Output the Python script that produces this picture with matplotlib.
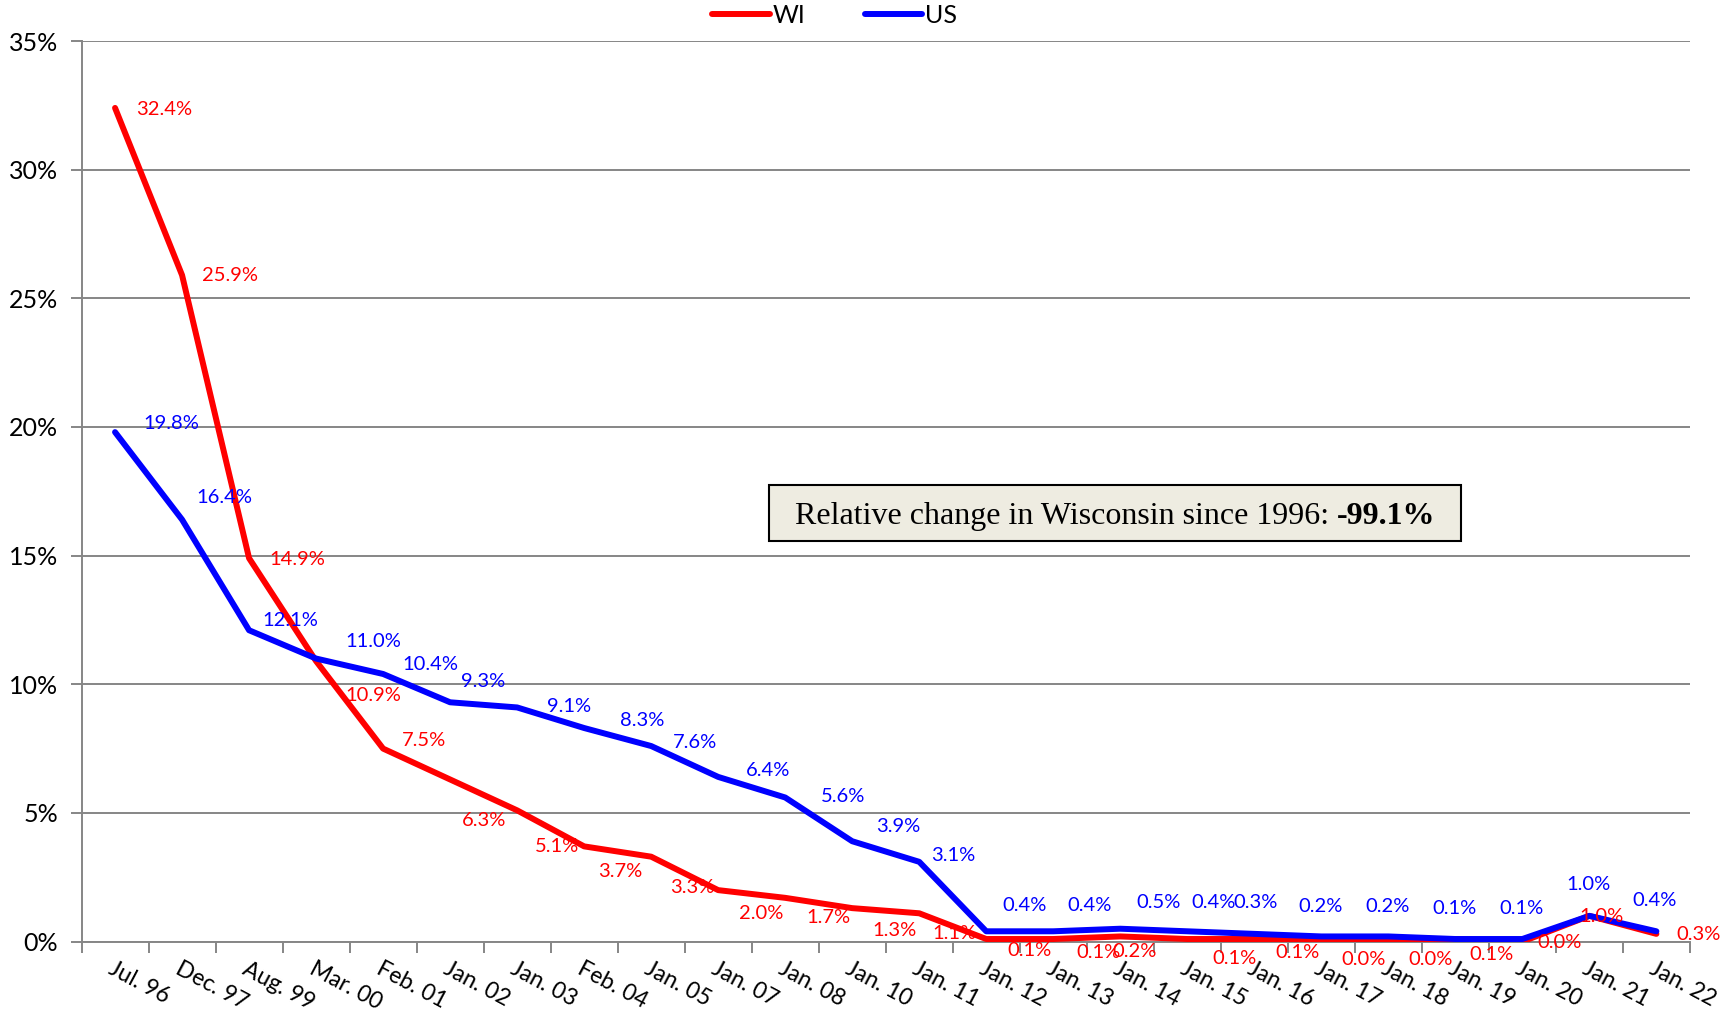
import matplotlib
matplotlib.use("Agg")
import matplotlib.pyplot as plt
from matplotlib.patches import Rectangle
import numpy as np

DATES = ["Jul. 96", "Dec. 97", "Aug. 99", "Mar. 00", "Feb. 01", "Jan. 02", "Jan. 03",
         "Feb. 04", "Jan. 05", "Jan. 07", "Jan. 08", "Jan. 10", "Jan. 11", "Jan. 12",
         "Jan. 13", "Jan. 14", "Jan. 15", "Jan. 16", "Jan. 17", "Jan. 18", "Jan. 19",
         "Jan. 20", "Jan. 21", "Jan. 22"]
WI = [32.4, 25.9, 14.9, 10.9, 7.5, 6.3, 5.1, 3.7, 3.3, 2.0, 1.7, 1.3, 1.1, 0.1,
      0.1, 0.2, 0.1, 0.1, 0.0, 0.0, 0.1, 0.0, 1.0, 0.3]
US = [19.8, 16.4, 12.1, 11.0, 10.4, 9.3, 9.1, 8.3, 7.6, 6.4, 5.6, 3.9, 3.1, 0.4,
      0.4, 0.5, 0.4, 0.3, 0.2, 0.2, 0.1, 0.1, 1.0, 0.4]
WI_CHANGE = "-99.1%"

# label offsets (px right, px down) as hand-placed in the original
WI_OFF = [(44, 1), (43, 0), (44, 1), (52, 31), (37, -7), (31, 37), (36, 33), (33, 23),
          (37, 28), (39, 21), (39, 18), (38, 20), (32, 18), (39, 10), (41, 12), (13, 14),
          (43, 18), (39, 12), (38, 16), (38, 16), (33, 14), (34, 1), (11, 1), (38, 1)]
US_OFF = [(51, -8), (38, -20), (37, -9), (52, -15), (43, -9), (30, -19), (47, -1), (52, -7),
          (40, -3), (45, -6), (52, -1), (42, -13), (31, -6), (35, -23), (33, -23), (35, -24),
          (24, -26), (1, -28), (-1, -27), (-1, -27), (-1, -28), (-1, -28), (-1, -28), (-2, -28)]

SCALE = 1735 / 1568
GRID = "#868686"
plt.rcParams["font.family"] = ["Lato", "DejaVu Sans"]

fig = plt.figure(figsize=(17.35, 10.13), dpi=100)
ax = fig.add_axes([0.047, 0.0705, 0.927, 0.889])
x = np.arange(len(DATES))

ax.plot(x, WI, color="#FF0000", lw=4.3, label="WI", solid_capstyle="round", zorder=3)
ax.plot(x, US, color="#0000FF", lw=4.3, label="US", solid_capstyle="round", zorder=4)

for xi, v, (dx, dy) in zip(x, WI, WI_OFF):
    ax.annotate(f"{v:.1f}%", (xi, v), xytext=(dx * SCALE, -dy * SCALE),
                textcoords="offset pixels", ha="center", va="center",
                color="#FF0000", fontsize=14.5, zorder=5)
for xi, v, (dx, dy) in zip(x, US, US_OFF):
    ax.annotate(f"{v:.1f}%", (xi, v), xytext=(dx * SCALE, -dy * SCALE),
                textcoords="offset pixels", ha="center", va="center",
                color="#0000FF", fontsize=14.5, zorder=5)

ax.set_xlim(-0.5, len(DATES) - 0.5)
ax.set_ylim(0, 35)
ax.set_yticks(np.arange(0, 36, 5))
ax.set_yticklabels([f"{t}%" for t in range(0, 36, 5)], fontsize=18)
ax.yaxis.grid(True, color=GRID, lw=1.4)
ax.set_axisbelow(True)

ax.set_xticks(x)
ax.set_xticklabels(DATES, rotation=-28, ha="left", va="top",
                   rotation_mode="anchor", fontsize=16.5)
ax.tick_params(axis="x", length=0, pad=12)
ax.set_xticks(np.arange(-0.5, len(DATES)), minor=True)
ax.tick_params(axis="x", which="minor", length=8, width=1.4, color=GRID)
ax.tick_params(axis="y", length=8, width=1.4, color=GRID, pad=9)

for s in ["top", "right"]:
    ax.spines[s].set_visible(False)
for s in ["left", "bottom"]:
    ax.spines[s].set_color(GRID)
    ax.spines[s].set_linewidth(1.4)

fig.legend(*ax.get_legend_handles_labels(), loc="center",
           bbox_to_anchor=(0.481, 0.985), ncol=2, frameon=False,
           fontsize=18, handlelength=2.3, handletextpad=0.1, columnspacing=2.4)

# annotation box
ax.add_patch(Rectangle((0.4274, 0.4448), 0.4302, 0.0622, transform=ax.transAxes,
                       facecolor="#EEECE1", edgecolor="black", lw=1.5, zorder=6))
t1 = ax.text(0.4435, 0.472, "Relative change in Wisconsin since 1996: ",
             transform=ax.transAxes, ha="left", va="center", fontsize=23,
             family="Liberation Serif", zorder=7)
ax.annotate(WI_CHANGE, xy=(1, 0.5), xycoords=t1, ha="left", va="center",
            fontsize=23, family="Liberation Serif", fontweight="bold", zorder=7)

fig.savefig("out.png", dpi=100)
